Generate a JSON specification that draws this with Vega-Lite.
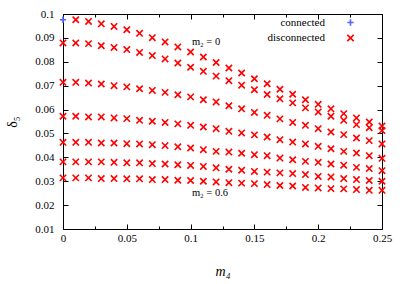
{
  "$schema": "https://vega.github.io/schema/vega-lite/v6.json",
  "width": 319,
  "height": 215,
  "autosize": "none",
  "padding": {"left": 63, "top": 14, "right": 25, "bottom": 55},
  "background": "white",
  "config": {
    "view": {"stroke": "black", "strokeWidth": 1},
    "font": "'Liberation Serif', 'Times New Roman', serif",
    "axis": {
      "domain": false, "grid": false, "labelFlush": false, "labelOverlap": false,
      "labelFont": "'Liberation Serif', 'Times New Roman', serif", "labelFontSize": 11, "labelColor": "black",
      "titleFont": "'Liberation Serif', 'Times New Roman', serif", "titleFontWeight": "normal", "titleFontSize": 14, "titleColor": "black",
      "tickColor": "black", "tickWidth": 1
    },
    "legend": {"labelFont": "'Liberation Serif', 'Times New Roman', serif", "labelFontSize": 11, "labelColor": "black"}
  },
  "datasets": {
    "pts": [
      {"m4":0,"d5":0.0976,"kind":"connected"},
      {"m4":0.01,"d5":0.0976,"kind":"disconnected"},{"m4":0.02,"d5":0.0969,"kind":"disconnected"},{"m4":0.03,"d5":0.0959,"kind":"disconnected"},{"m4":0.04,"d5":0.0948,"kind":"disconnected"},{"m4":0.05,"d5":0.0934,"kind":"disconnected"},{"m4":0.06,"d5":0.0919,"kind":"disconnected"},{"m4":0.07,"d5":0.0901,"kind":"disconnected"},{"m4":0.08,"d5":0.0883,"kind":"disconnected"},{"m4":0.09,"d5":0.0862,"kind":"disconnected"},{"m4":0.10,"d5":0.0841,"kind":"disconnected"},{"m4":0.11,"d5":0.0820,"kind":"disconnected"},{"m4":0.12,"d5":0.0797,"kind":"disconnected"},{"m4":0.13,"d5":0.0774,"kind":"disconnected"},{"m4":0.14,"d5":0.0753,"kind":"disconnected"},{"m4":0.15,"d5":0.0729,"kind":"disconnected"},{"m4":0.16,"d5":0.0708,"kind":"disconnected"},{"m4":0.17,"d5":0.0685,"kind":"disconnected"},{"m4":0.18,"d5":0.0664,"kind":"disconnected"},{"m4":0.19,"d5":0.0641,"kind":"disconnected"},{"m4":0.20,"d5":0.0622,"kind":"disconnected"},{"m4":0.21,"d5":0.0603,"kind":"disconnected"},{"m4":0.22,"d5":0.0583,"kind":"disconnected"},{"m4":0.23,"d5":0.0565,"kind":"disconnected"},{"m4":0.24,"d5":0.0548,"kind":"disconnected"},{"m4":0.25,"d5":0.0531,"kind":"disconnected"},
      {"m4":0,"d5":0.0879,"kind":"disconnected"},{"m4":0.01,"d5":0.0879,"kind":"disconnected"},{"m4":0.02,"d5":0.0876,"kind":"disconnected"},{"m4":0.03,"d5":0.0867,"kind":"disconnected"},{"m4":0.04,"d5":0.0860,"kind":"disconnected"},{"m4":0.05,"d5":0.0851,"kind":"disconnected"},{"m4":0.06,"d5":0.0839,"kind":"disconnected"},{"m4":0.07,"d5":0.0826,"kind":"disconnected"},{"m4":0.08,"d5":0.0812,"kind":"disconnected"},{"m4":0.09,"d5":0.0795,"kind":"disconnected"},{"m4":0.10,"d5":0.0777,"kind":"disconnected"},{"m4":0.11,"d5":0.0760,"kind":"disconnected"},{"m4":0.12,"d5":0.0740,"kind":"disconnected"},{"m4":0.13,"d5":0.0721,"kind":"disconnected"},{"m4":0.14,"d5":0.0702,"kind":"disconnected"},{"m4":0.15,"d5":0.0683,"kind":"disconnected"},{"m4":0.16,"d5":0.0663,"kind":"disconnected"},{"m4":0.17,"d5":0.0645,"kind":"disconnected"},{"m4":0.18,"d5":0.0628,"kind":"disconnected"},{"m4":0.19,"d5":0.0607,"kind":"disconnected"},{"m4":0.20,"d5":0.0590,"kind":"disconnected"},{"m4":0.21,"d5":0.0572,"kind":"disconnected"},{"m4":0.22,"d5":0.0555,"kind":"disconnected"},{"m4":0.23,"d5":0.0537,"kind":"disconnected"},{"m4":0.24,"d5":0.0524,"kind":"disconnected"},{"m4":0.25,"d5":0.0512,"kind":"disconnected"},
      {"m4":0,"d5":0.0714,"kind":"disconnected"},{"m4":0.01,"d5":0.0714,"kind":"disconnected"},{"m4":0.02,"d5":0.0711,"kind":"disconnected"},{"m4":0.03,"d5":0.0707,"kind":"disconnected"},{"m4":0.04,"d5":0.0700,"kind":"disconnected"},{"m4":0.05,"d5":0.0695,"kind":"disconnected"},{"m4":0.06,"d5":0.0687,"kind":"disconnected"},{"m4":0.07,"d5":0.0680,"kind":"disconnected"},{"m4":0.08,"d5":0.0672,"kind":"disconnected"},{"m4":0.09,"d5":0.0662,"kind":"disconnected"},{"m4":0.10,"d5":0.0653,"kind":"disconnected"},{"m4":0.11,"d5":0.0641,"kind":"disconnected"},{"m4":0.12,"d5":0.0632,"kind":"disconnected"},{"m4":0.13,"d5":0.0616,"kind":"disconnected"},{"m4":0.14,"d5":0.0603,"kind":"disconnected"},{"m4":0.15,"d5":0.0588,"kind":"disconnected"},{"m4":0.16,"d5":0.0576,"kind":"disconnected"},{"m4":0.17,"d5":0.0561,"kind":"disconnected"},{"m4":0.18,"d5":0.0546,"kind":"disconnected"},{"m4":0.19,"d5":0.0534,"kind":"disconnected"},{"m4":0.20,"d5":0.0520,"kind":"disconnected"},{"m4":0.21,"d5":0.0506,"kind":"disconnected"},{"m4":0.22,"d5":0.0495,"kind":"disconnected"},{"m4":0.23,"d5":0.0481,"kind":"disconnected"},{"m4":0.24,"d5":0.0470,"kind":"disconnected"},{"m4":0.25,"d5":0.0456,"kind":"disconnected"},
      {"m4":0,"d5":0.0572,"kind":"disconnected"},{"m4":0.01,"d5":0.0572,"kind":"disconnected"},{"m4":0.02,"d5":0.0569,"kind":"disconnected"},{"m4":0.03,"d5":0.0569,"kind":"disconnected"},{"m4":0.04,"d5":0.0565,"kind":"disconnected"},{"m4":0.05,"d5":0.0562,"kind":"disconnected"},{"m4":0.06,"d5":0.0555,"kind":"disconnected"},{"m4":0.07,"d5":0.0551,"kind":"disconnected"},{"m4":0.08,"d5":0.0546,"kind":"disconnected"},{"m4":0.09,"d5":0.0540,"kind":"disconnected"},{"m4":0.10,"d5":0.0534,"kind":"disconnected"},{"m4":0.11,"d5":0.0527,"kind":"disconnected"},{"m4":0.12,"d5":0.0520,"kind":"disconnected"},{"m4":0.13,"d5":0.0509,"kind":"disconnected"},{"m4":0.14,"d5":0.0502,"kind":"disconnected"},{"m4":0.15,"d5":0.0494,"kind":"disconnected"},{"m4":0.16,"d5":0.0485,"kind":"disconnected"},{"m4":0.17,"d5":0.0474,"kind":"disconnected"},{"m4":0.18,"d5":0.0464,"kind":"disconnected"},{"m4":0.19,"d5":0.0456,"kind":"disconnected"},{"m4":0.20,"d5":0.0446,"kind":"disconnected"},{"m4":0.21,"d5":0.0436,"kind":"disconnected"},{"m4":0.22,"d5":0.0425,"kind":"disconnected"},{"m4":0.23,"d5":0.0418,"kind":"disconnected"},{"m4":0.24,"d5":0.0407,"kind":"disconnected"},{"m4":0.25,"d5":0.0396,"kind":"disconnected"},
      {"m4":0,"d5":0.0463,"kind":"disconnected"},{"m4":0.01,"d5":0.0463,"kind":"disconnected"},{"m4":0.02,"d5":0.0463,"kind":"disconnected"},{"m4":0.03,"d5":0.0460,"kind":"disconnected"},{"m4":0.04,"d5":0.0460,"kind":"disconnected"},{"m4":0.05,"d5":0.0457,"kind":"disconnected"},{"m4":0.06,"d5":0.0456,"kind":"disconnected"},{"m4":0.07,"d5":0.0453,"kind":"disconnected"},{"m4":0.08,"d5":0.0449,"kind":"disconnected"},{"m4":0.09,"d5":0.0444,"kind":"disconnected"},{"m4":0.10,"d5":0.0439,"kind":"disconnected"},{"m4":0.11,"d5":0.0432,"kind":"disconnected"},{"m4":0.12,"d5":0.0425,"kind":"disconnected"},{"m4":0.13,"d5":0.0422,"kind":"disconnected"},{"m4":0.14,"d5":0.0417,"kind":"disconnected"},{"m4":0.15,"d5":0.0411,"kind":"disconnected"},{"m4":0.16,"d5":0.0407,"kind":"disconnected"},{"m4":0.17,"d5":0.0397,"kind":"disconnected"},{"m4":0.18,"d5":0.0390,"kind":"disconnected"},{"m4":0.19,"d5":0.0383,"kind":"disconnected"},{"m4":0.20,"d5":0.0379,"kind":"disconnected"},{"m4":0.21,"d5":0.0372,"kind":"disconnected"},{"m4":0.22,"d5":0.0367,"kind":"disconnected"},{"m4":0.23,"d5":0.0358,"kind":"disconnected"},{"m4":0.24,"d5":0.0353,"kind":"disconnected"},{"m4":0.25,"d5":0.0344,"kind":"disconnected"},
      {"m4":0,"d5":0.0381,"kind":"disconnected"},{"m4":0.01,"d5":0.0381,"kind":"disconnected"},{"m4":0.02,"d5":0.0381,"kind":"disconnected"},{"m4":0.03,"d5":0.0381,"kind":"disconnected"},{"m4":0.04,"d5":0.0379,"kind":"disconnected"},{"m4":0.05,"d5":0.0377,"kind":"disconnected"},{"m4":0.06,"d5":0.0377,"kind":"disconnected"},{"m4":0.07,"d5":0.0374,"kind":"disconnected"},{"m4":0.08,"d5":0.0372,"kind":"disconnected"},{"m4":0.09,"d5":0.0369,"kind":"disconnected"},{"m4":0.10,"d5":0.0366,"kind":"disconnected"},{"m4":0.11,"d5":0.0362,"kind":"disconnected"},{"m4":0.12,"d5":0.0356,"kind":"disconnected"},{"m4":0.13,"d5":0.0350,"kind":"disconnected"},{"m4":0.14,"d5":0.0346,"kind":"disconnected"},{"m4":0.15,"d5":0.0341,"kind":"disconnected"},{"m4":0.16,"d5":0.0338,"kind":"disconnected"},{"m4":0.17,"d5":0.0335,"kind":"disconnected"},{"m4":0.18,"d5":0.0332,"kind":"disconnected"},{"m4":0.19,"d5":0.0328,"kind":"disconnected"},{"m4":0.20,"d5":0.0320,"kind":"disconnected"},{"m4":0.21,"d5":0.0318,"kind":"disconnected"},{"m4":0.22,"d5":0.0311,"kind":"disconnected"},{"m4":0.23,"d5":0.0307,"kind":"disconnected"},{"m4":0.24,"d5":0.0303,"kind":"disconnected"},{"m4":0.25,"d5":0.0300,"kind":"disconnected"},
      {"m4":0,"d5":0.0314,"kind":"disconnected"},{"m4":0.01,"d5":0.0314,"kind":"disconnected"},{"m4":0.02,"d5":0.0314,"kind":"disconnected"},{"m4":0.03,"d5":0.0311,"kind":"disconnected"},{"m4":0.04,"d5":0.0311,"kind":"disconnected"},{"m4":0.05,"d5":0.0310,"kind":"disconnected"},{"m4":0.06,"d5":0.0310,"kind":"disconnected"},{"m4":0.07,"d5":0.0307,"kind":"disconnected"},{"m4":0.08,"d5":0.0307,"kind":"disconnected"},{"m4":0.09,"d5":0.0304,"kind":"disconnected"},{"m4":0.10,"d5":0.0303,"kind":"disconnected"},{"m4":0.11,"d5":0.0300,"kind":"disconnected"},{"m4":0.12,"d5":0.0297,"kind":"disconnected"},{"m4":0.13,"d5":0.0294,"kind":"disconnected"},{"m4":0.14,"d5":0.0292,"kind":"disconnected"},{"m4":0.15,"d5":0.0290,"kind":"disconnected"},{"m4":0.16,"d5":0.0286,"kind":"disconnected"},{"m4":0.17,"d5":0.0282,"kind":"disconnected"},{"m4":0.18,"d5":0.0280,"kind":"disconnected"},{"m4":0.19,"d5":0.0274,"kind":"disconnected"},{"m4":0.20,"d5":0.0272,"kind":"disconnected"},{"m4":0.21,"d5":0.0269,"kind":"disconnected"},{"m4":0.22,"d5":0.0268,"kind":"disconnected"},{"m4":0.23,"d5":0.0265,"kind":"disconnected"},{"m4":0.24,"d5":0.0262,"kind":"disconnected"},{"m4":0.25,"d5":0.0262,"kind":"disconnected"}
    ],
    "lab": [
      {"m4":0.101,"d5":0.0881,"t":"m₂ = 0"},
      {"m4":0.101,"d5":0.0249,"t":"m₂ = 0.6"}
    ]
  },
  "layer": [
    {
      "data": {"name": "pts"},
      "mark": {"type": "point", "filled": false, "strokeWidth": 1.6, "size": 40, "opacity": 1, "clip": false},
      "encoding": {
        "x": {
          "field": "m4", "type": "quantitative",
          "scale": {"domain": [0, 0.25], "nice": false, "zero": false},
          "axis": {
            "orient": "bottom", "title": "m₄", "titleFontStyle": "italic",
            "values": [0, 0.025, 0.05, 0.075, 0.1, 0.125, 0.15, 0.175, 0.2, 0.225, 0.25],
            "format": "~g",
            "labelExpr": "abs(round(datum.value*1000) % 50) == 0 ? datum.label : ''",
            "tickSize": {"condition": {"test": "abs(round(datum.value*1000) % 50) == 0", "value": -5}, "value": -3},
            "labelPadding": 8,
            "titleY": 42, "titleBaseline": "middle"
          }
        },
        "y": {
          "field": "d5", "type": "quantitative",
          "scale": {"domain": [0.01, 0.1], "nice": false, "zero": false},
          "axis": {
            "orient": "left", "title": "δ₅",
            "values": [0.01, 0.02, 0.03, 0.04, 0.05, 0.06, 0.07, 0.08, 0.09, 0.1],
            "format": "~g", "tickSize": -5, "labelPadding": 14,
            "titleX": -51, "titleY": 107.5, "titleBaseline": "middle", "titleAngle": -90, "titleAlign": "center"
          }
        },
        "color": {
          "field": "kind", "type": "nominal",
          "scale": {"domain": ["connected", "disconnected"], "range": ["#5566ff", "#ff0000"]},
          "legend": {
            "orient": "none", "legendX": 282, "legendY": 3, "title": null,
            "padding": 0, "labelAlign": "right", "labelOffset": -31, "rowPadding": 2.5,
            "symbolSize": 40, "symbolStrokeWidth": 1.6
          }
        },
        "shape": {
          "field": "kind", "type": "nominal",
          "scale": {"domain": ["connected", "disconnected"], "range": ["M-1,0L1,0M0,-1L0,1", "M-1,-1L1,1M-1,1L1,-1"]},
          "legend": {
            "orient": "none", "legendX": 282, "legendY": 3, "title": null,
            "padding": 0, "labelAlign": "right", "labelOffset": -31, "rowPadding": 2.5,
            "symbolSize": 40, "symbolStrokeWidth": 1.6
          }
        }
      }
    },
    {
      "data": {"name": "lab"},
      "mark": {"type": "text", "align": "left", "baseline": "middle", "fontSize": 10.5, "font": "'Liberation Serif', 'Times New Roman', serif", "color": "black"},
      "encoding": {
        "x": {
          "field": "m4", "type": "quantitative",
          "axis": {
            "orient": "top", "title": null, "labels": false,
            "values": [0, 0.025, 0.05, 0.075, 0.1, 0.125, 0.15, 0.175, 0.2, 0.225, 0.25],
            "tickSize": {"condition": {"test": "abs(round(datum.value*1000) % 50) == 0", "value": -5}, "value": -3}
          }
        },
        "y": {
          "field": "d5", "type": "quantitative",
          "axis": {
            "orient": "right", "title": null, "labels": false,
            "values": [0.01, 0.02, 0.03, 0.04, 0.05, 0.06, 0.07, 0.08, 0.09, 0.1],
            "tickSize": -5
          }
        },
        "text": {"field": "t"}
      }
    }
  ],
  "resolve": {"axis": {"x": "independent", "y": "independent"}}
}
